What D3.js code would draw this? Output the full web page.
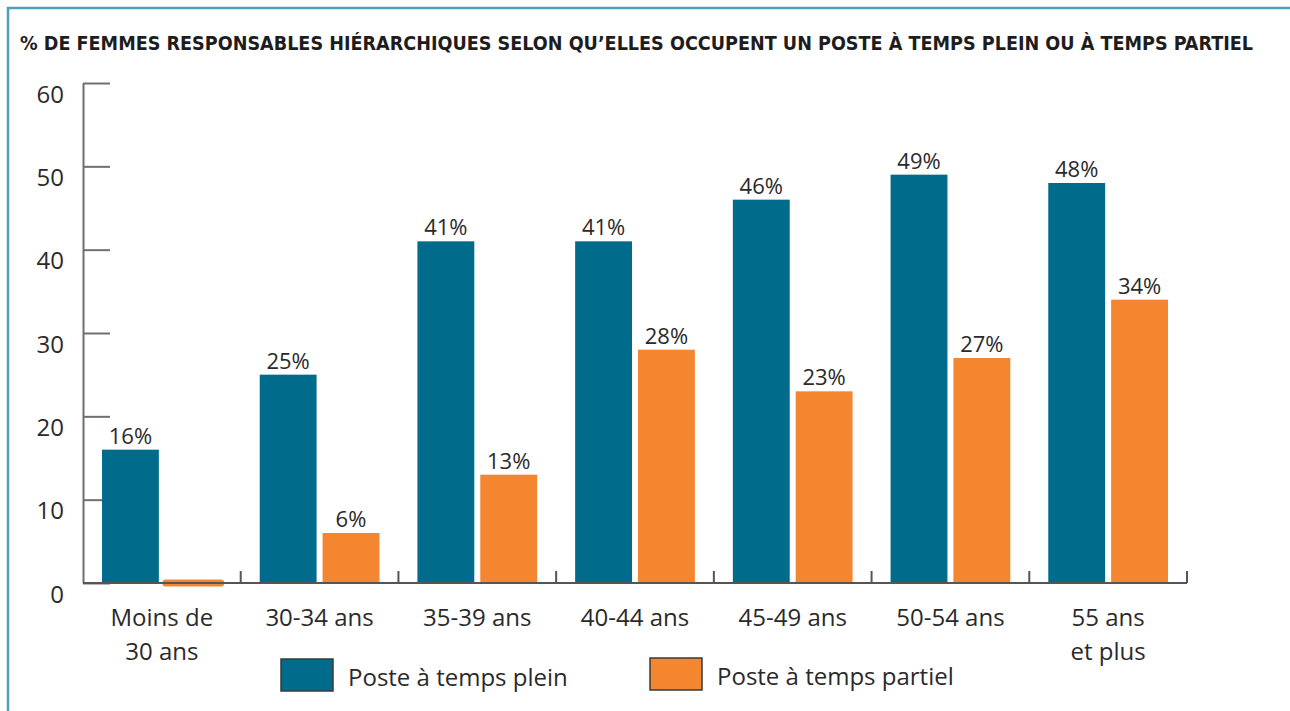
<!DOCTYPE html>
<html>
<head>
<meta charset="utf-8">
<script src="https://cdn.jsdelivr.net/npm/d3@7"></script>
<style>
  body { margin: 0; background: #fff; }
  svg { display: block; }
</style>
</head>
<body>
<div id="graphique"></div>
<script>
// donnees
const categories = ["Moins de|30 ans", "30-34 ans", "35-39 ans", "40-44 ans", "45-49 ans", "50-54 ans", "55 ans|et plus"];
const series = ["Poste à temps plein", "Poste à temps partiel"];
const tempsPlein = [16, 25, 41, 41, 46, 49, 48];
const tempsPartiel = [0, 6, 13, 28, 23, 27, 34];
const yTicks = [0, 10, 20, 30, 40, 50, 60];

const bleu = "#006b8a", orange = "#f3862f", texte = "#2b2a2b", cadre = "#4d9fba";
const police = "'Open Sans', 'Noto Sans', sans-serif";

const W = 1290, H = 711;
const gauche = 83, droite = 1187, haut = 83, bas = 583;

const $svg = d3.select("#graphique").append("svg")
    .attr("width", W).attr("height", H);

// cadre (gauche + haut)
$svg.append("path")
    .attr("d", `M8,${H} V8 H${W}`)
    .attr("fill", "none")
    .attr("stroke", cadre)
    .attr("stroke-width", 2.5);

// titre : on garde sa largeur naturelle sous le bord droit, puis on l'etire a 1233 px
const titre = $svg.append("text")
    .attr("x", 20).attr("y", 50)
    .attr("fill", "#1e1d1e")
    .attr("font-family", "'DejaVu Sans Condensed', 'Liberation Sans Narrow', sans-serif")
    .attr("font-weight", "bold")
    .attr("font-size", 21)
    .text("% DE FEMMES RESPONSABLES HIÉRARCHIQUES SELON QU’ELLES OCCUPENT UN POSTE À TEMPS PLEIN OU À TEMPS PARTIEL");
const largeurNat = titre.node().getComputedTextLength();
titre.attr("font-size", Math.min(22, 21 * 1260 / largeurNat))
    .attr("textLength", 1233)
    .attr("lengthAdjust", "spacingAndGlyphs");

const y = d3.scaleLinear().domain([0, 60]).range([bas, haut]);
const x = d3.scaleBand().domain(categories).range([gauche, droite]);
const xs = d3.scaleBand().domain(series).range([19, x.bandwidth() - 19]).paddingInner(6 / 63);
const couleur = d3.scaleOrdinal().domain(series).range([bleu, orange]);

const lignes = categories.map((c, i) => ({
    cat: c,
    valeurs: [
        { serie: series[0], v: tempsPlein[i] },
        { serie: series[1], v: tempsPartiel[i] }
    ]
}));

// axe vertical
const axeY = $svg.append("g")
    .attr("transform", `translate(${gauche},0)`)
    .call(d3.axisLeft(y).tickValues(yTicks).tickSize(-27).tickSizeOuter(0).tickPadding(19));
axeY.select(".domain").attr("stroke", "#6f6f6f").attr("stroke-width", 2);
axeY.selectAll(".tick line").attr("stroke", "#6f6f6f").attr("stroke-width", 2);
axeY.selectAll(".tick text")
    .attr("dy", 19)
    .attr("fill", texte)
    .attr("font-family", police)
    .attr("font-size", 24);

// barres
const groupes = $svg.append("g").selectAll("g")
    .data(lignes)
    .join("g")
    .attr("transform", d => `translate(${x(d.cat)},0)`);

groupes.selectAll("rect")
    .data(d => d.valeurs.filter(e => e.v > 0))
    .join("rect")
    .attr("x", d => xs(d.serie))
    .attr("y", d => y(d.v))
    .attr("width", xs.bandwidth())
    .attr("height", d => y(0) - y(d.v))
    .attr("fill", d => couleur(d.serie));

// valeur nulle : trait arrondi sur la ligne de base
groupes.selectAll("line.zero")
    .data(d => d.valeurs.filter(e => e.v === 0))
    .join("line")
    .attr("class", "zero")
    .attr("x1", d => xs(d.serie) + 1)
    .attr("x2", d => xs(d.serie) + xs.bandwidth() - 1)
    .attr("y1", y(0)).attr("y2", y(0))
    .attr("stroke", d => couleur(d.serie))
    .attr("stroke-width", 7)
    .attr("stroke-linecap", "round");

groupes.selectAll("text.valeur")
    .data(d => d.valeurs.filter(e => e.v > 0))
    .join("text")
    .attr("class", "valeur")
    .attr("x", d => xs(d.serie) + xs.bandwidth() / 2)
    .attr("y", d => y(d.v) - 6)
    .attr("text-anchor", "middle")
    .attr("fill", texte)
    .attr("font-family", police)
    .attr("font-size", 22)
    .text(d => d.v + "%");

// axe horizontal
const axeX = $svg.append("g");
axeX.append("line")
    .attr("x1", gauche).attr("x2", droite)
    .attr("y1", bas).attr("y2", bas)
    .attr("stroke", "#555").attr("stroke-width", 2);
axeX.selectAll("line.tick")
    .data(categories)
    .join("line")
    .attr("class", "tick")
    .attr("x1", d => x(d) + x.bandwidth()).attr("x2", d => x(d) + x.bandwidth())
    .attr("y1", bas - 12).attr("y2", bas)
    .attr("stroke", "#555").attr("stroke-width", 2);

axeX.selectAll("text")
    .data(categories)
    .join("text")
    .attr("x", d => x(d) + x.bandwidth() / 2)
    .attr("text-anchor", "middle")
    .attr("fill", texte)
    .attr("font-family", police)
    .attr("font-size", 24)
    .each(function (d) {
        const t = d3.select(this);
        d.split("|").forEach((ligne, i) => {
            t.append("tspan")
                .attr("x", x(d) + x.bandwidth() / 2)
                .attr("y", 626 + i * 34)
                .text(ligne);
        });
    });

// legende
const legende = [
    { serie: series[0], x: 281, y: 659 },
    { serie: series[1], x: 650, y: 658 }
];
const $leg = $svg.append("g").selectAll("g")
    .data(legende)
    .join("g")
    .attr("transform", d => `translate(${d.x},${d.y})`);
$leg.append("rect")
    .attr("width", 52).attr("height", 32)
    .attr("fill", d => couleur(d.serie))
    .attr("stroke", "#3a3a3a").attr("stroke-width", 1.5);
$leg.append("text")
    .attr("x", 67).attr("y", 27)
    .attr("fill", texte)
    .attr("font-family", police)
    .attr("font-size", 24)
    .text(d => d.serie);
</script>
</body>
</html>
